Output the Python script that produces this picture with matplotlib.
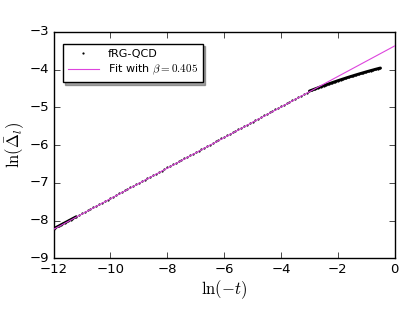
import matplotlib
matplotlib.use("Agg")
import matplotlib.pyplot as plt
import numpy as np

# fRG-QCD data: ln(-t) and ln(Delta_l)
x_data = [
    -12.00, -11.95, -11.90, -11.85, -11.80, -11.75, -11.70, -11.65, -11.60,
    -11.55, -11.50, -11.45, -11.40, -11.35, -11.30, -11.25, -11.20,
    -11.1, -11.0, -10.9, -10.8, -10.7, -10.6, -10.5, -10.4, -10.3, -10.2,
    -10.1, -10.0, -9.9, -9.8, -9.7, -9.6, -9.5, -9.4, -9.3, -9.2, -9.1,
    -9.0, -8.9, -8.8, -8.7, -8.6, -8.5, -8.4, -8.3, -8.2, -8.1, -8.0,
    -7.9, -7.8, -7.7, -7.6, -7.5, -7.4, -7.3, -7.2, -7.1, -7.0, -6.9,
    -6.8, -6.7, -6.6, -6.5, -6.4, -6.3, -6.2, -6.1, -6.0, -5.9, -5.8,
    -5.7, -5.6, -5.5, -5.4, -5.3, -5.2, -5.1, -5.0, -4.9, -4.8, -4.7,
    -4.6, -4.5, -4.4, -4.3, -4.2, -4.1, -4.0, -3.9, -3.8, -3.7, -3.6,
    -3.5, -3.4, -3.3, -3.2, -3.1, -3.0,
    -2.95, -2.90, -2.85, -2.80, -2.75, -2.70, -2.65, -2.60, -2.55, -2.50,
    -2.45, -2.40, -2.35, -2.30, -2.25, -2.20, -2.15, -2.10, -2.05, -2.00,
    -1.95, -1.90, -1.85, -1.80, -1.75, -1.70, -1.65, -1.60, -1.55, -1.50,
    -1.45, -1.40, -1.35, -1.30, -1.25, -1.20, -1.15, -1.10, -1.05, -1.00,
    -0.95, -0.90, -0.85, -0.80, -0.75, -0.70, -0.65, -0.60, -0.55, -0.50,
]
y_data = [
    -8.21, -8.19, -8.17, -8.15, -8.13, -8.11, -8.09, -8.07, -8.05,
    -8.03, -8.01, -7.99, -7.97, -7.95, -7.93, -7.91, -7.89,
    -7.846, -7.805, -7.765, -7.724, -7.684, -7.643, -7.603, -7.562, -7.522, -7.481,
    -7.441, -7.400, -7.360, -7.319, -7.279, -7.238, -7.198, -7.157, -7.117, -7.076, -7.036,
    -6.995, -6.955, -6.914, -6.874, -6.833, -6.793, -6.752, -6.712, -6.671, -6.631, -6.590,
    -6.550, -6.509, -6.469, -6.428, -6.388, -6.347, -6.307, -6.266, -6.226, -6.185, -6.145,
    -6.104, -6.064, -6.023, -5.983, -5.942, -5.902, -5.861, -5.821, -5.780, -5.740, -5.699,
    -5.659, -5.618, -5.578, -5.537, -5.497, -5.456, -5.416, -5.375, -5.335, -5.294, -5.254,
    -5.213, -5.173, -5.132, -5.092, -5.051, -5.011, -4.970, -4.930, -4.889, -4.849, -4.808,
    -4.768, -4.727, -4.687, -4.646, -4.606, -4.565,
    -4.550, -4.536, -4.521, -4.507, -4.493, -4.478, -4.464, -4.450, -4.436, -4.423,
    -4.409, -4.395, -4.382, -4.368, -4.355, -4.342, -4.329, -4.316, -4.303, -4.290,
    -4.277, -4.265, -4.252, -4.240, -4.228, -4.215, -4.203, -4.191, -4.179, -4.168,
    -4.156, -4.144, -4.133, -4.121, -4.110, -4.099, -4.088, -4.077, -4.066, -4.055,
    -4.044, -4.034, -4.023, -4.013, -4.003, -3.992, -3.982, -3.972, -3.962, -3.953,
]

# fit parameters: ln(Delta) = beta * ln(-t) + c
beta = 0.405
intercept = -3.37
fit_x = [-12.0, 0.0]

xticks = [-12, -10, -8, -6, -4, -2, 0]
yticks = [-9, -8, -7, -6, -5, -4, -3]

plt.style.use("classic")
plt.rcParams["mathtext.fontset"] = "cm"

fig = plt.figure(figsize=(4.15, 3.23), dpi=100, facecolor="white")
ax = fig.add_axes([0.129, 0.200, 0.822, 0.701])

xd = np.array(x_data)
yd = np.array(y_data)
ax.plot(xd, yd, linestyle="none", marker="o", markersize=1.6,
        markeredgewidth=0, color="black", label="fRG-QCD", zorder=2)
# densely sampled stretches of the data render as a solid band
dense_left = xd <= -11.2
dense_right = xd >= -3.05
ax.plot(xd[dense_left], yd[dense_left], color="black", linewidth=1.8,
        solid_capstyle="round", zorder=2)
ax.plot(xd[dense_right], yd[dense_right], color="black", linewidth=2.0,
        solid_capstyle="round", zorder=2)

fx = np.array(fit_x)
ax.plot(fx, beta * fx + intercept, color="#dd44dd", linewidth=0.8,
        label=r"Fit with $\beta = %.3f$" % beta, zorder=3)

ax.set_xlim(-12, 0)
ax.set_ylim(-9, -3)
ax.set_xticks(xticks)
ax.set_yticks(yticks)
ax.tick_params(labelsize=9.5, direction="in", length=4, pad=3)
ax.set_xlabel(r"$\ln(-t)$", fontsize=12, labelpad=2)
ax.set_ylabel(r"$\ln(\bar{\Delta}_l)$", fontsize=12, labelpad=2)

leg = ax.legend(loc="upper left", bbox_to_anchor=(0.010, 0.973), numpoints=1,
                fontsize=8, shadow=True, fancybox=False, handlelength=2.8,
                borderpad=0.45, labelspacing=0.4, markerscale=1.0)
leg.get_frame().set_linewidth(1.0)

fig.savefig("out.png", dpi=100, facecolor="white")
